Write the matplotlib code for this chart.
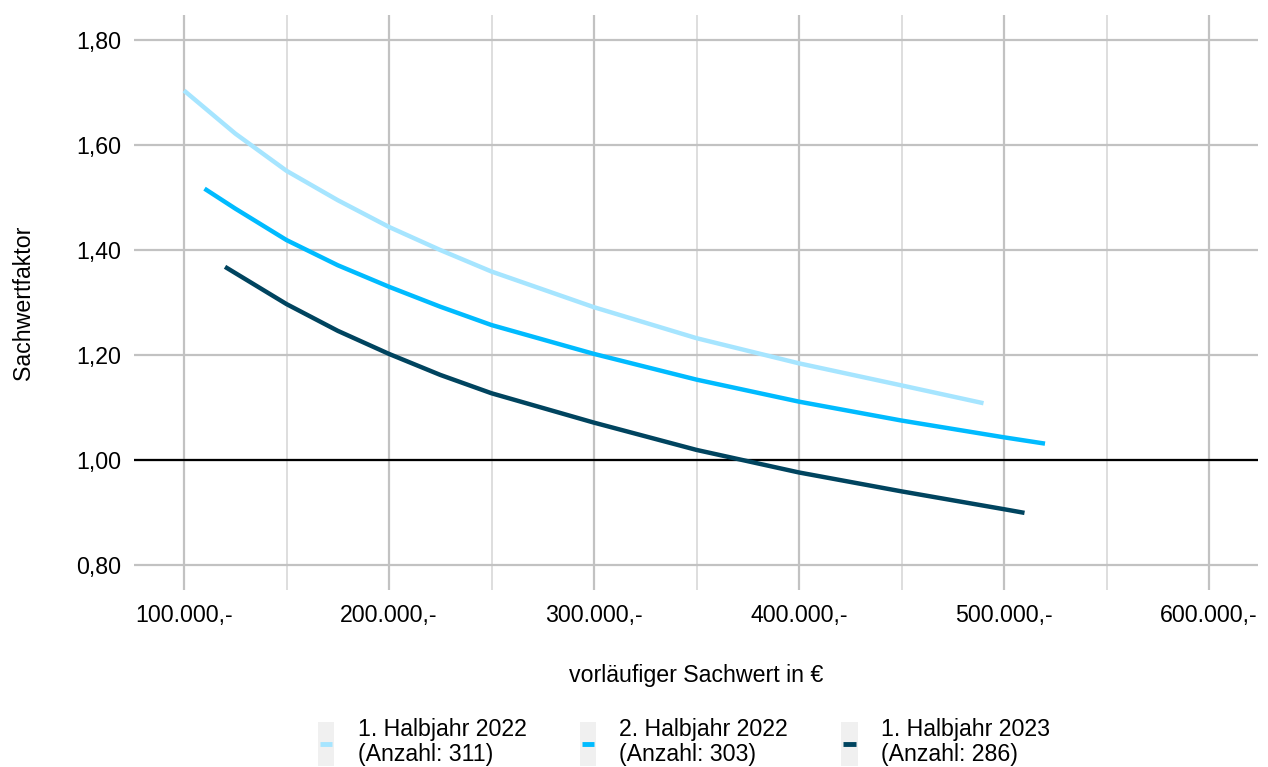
import matplotlib
matplotlib.use("Agg")
import matplotlib.pyplot as plt
from matplotlib.patches import Rectangle
from matplotlib.lines import Line2D
from matplotlib.legend_handler import HandlerBase
from matplotlib.ticker import FuncFormatter, MultipleLocator

plt.rcParams["font.family"] = ["Liberation Sans", "DejaVu Sans"]
plt.rcParams["font.size"] = 16.7

# values (x in EUR)
x_h1_2022 = [100000, 125000, 150000, 175000, 200000, 225000, 250000, 300000, 350000, 400000, 450000, 490000]
y_h1_2022 = [1.704, 1.622, 1.551, 1.495, 1.444, 1.400, 1.359, 1.291, 1.232, 1.184, 1.142, 1.108]

x_h2_2022 = [110000, 125000, 150000, 175000, 200000, 225000, 250000, 300000, 350000, 400000, 450000, 500000, 520000]
y_h2_2022 = [1.517, 1.479, 1.419, 1.371, 1.330, 1.292, 1.257, 1.202, 1.153, 1.111, 1.075, 1.043, 1.031]

x_h1_2023 = [120000, 150000, 175000, 200000, 225000, 250000, 300000, 350000, 400000, 450000, 500000, 510000]
y_h1_2023 = [1.368, 1.297, 1.246, 1.202, 1.162, 1.127, 1.071, 1.019, 0.976, 0.940, 0.906, 0.899]

labels = ["1. Halbjahr 2022\n(Anzahl: 311)",
          "2. Halbjahr 2022\n(Anzahl: 303)",
          "1. Halbjahr 2023\n(Anzahl: 286)"]
colors = ["#a6e5ff", "#00bbff", "#00445f"]


class KeyHandler(HandlerBase):
    # grey key box with a short coloured line, like ggplot legend keys
    def create_artists(self, legend, orig_handle, xdescent, ydescent,
                       width, height, fontsize, trans):
        bg = Rectangle((-xdescent, -ydescent), width, height,
                       facecolor="#f0f0f0", edgecolor="none", transform=trans)
        y = -ydescent + height / 2
        ln = Line2D([-xdescent + 1.5, -xdescent + width - 1.5], [y, y],
                    color=orig_handle.get_color(), linewidth=3.5,
                    solid_capstyle="butt", transform=trans)
        return [bg, ln]


fig = plt.figure(figsize=(12.68, 7.67), dpi=100)
ax = fig.add_axes([134 / 1268, 1 - 590 / 767, (1258 - 134) / 1268, (590 - 15) / 767])

ax.set_xlim(75600, 623900)
ax.set_ylim(0.752, 1.848)

ax.xaxis.set_major_locator(MultipleLocator(100000))
ax.xaxis.set_minor_locator(MultipleLocator(50000))
ax.yaxis.set_major_locator(MultipleLocator(0.2))
ax.grid(which="major", color="#c2c2c2", linewidth=1.6)
ax.grid(which="minor", axis="x", color="#d4d4d4", linewidth=1.1)
ax.set_axisbelow(True)
for s in ax.spines.values():
    s.set_visible(False)
ax.tick_params(which="both", length=0)
ax.tick_params(axis="x", pad=10)
ax.tick_params(axis="y", pad=9)

ax.xaxis.set_major_formatter(FuncFormatter(lambda v, p: f"{int(v):,}".replace(",", ".") + ",-"))
ax.yaxis.set_major_formatter(FuncFormatter(lambda v, p: f"{v:.2f}".replace(".", ",")))

ax.axhline(1.0, color="black", linewidth=1.6, zorder=2)

lines = []
series = [(x_h1_2022, y_h1_2022), (x_h2_2022, y_h2_2022), (x_h1_2023, y_h1_2023)]
for (xs, ys), c in zip(series, colors):
    l, = ax.plot(xs, ys, color=c, linewidth=3.2, solid_capstyle="butt",
                 solid_joinstyle="round", zorder=3)
    lines.append(l)

ax.set_xlabel("vorläufiger Sachwert in €", labelpad=27)
ax.set_ylabel("Sachwertfaktor", labelpad=30)

leg = fig.legend(lines, labels, handler_map={Line2D: KeyHandler()},
                 loc="lower center", bbox_to_anchor=(684 / 1268, -0.014), ncol=3,
                 frameon=False, handlelength=0.7, handleheight=2.5, handletextpad=1.0,
                 columnspacing=2.3, borderpad=0.0, labelspacing=0.2)
for t in leg.get_texts():
    t.set_linespacing(1.1)

fig.savefig("out.png", dpi=100)
